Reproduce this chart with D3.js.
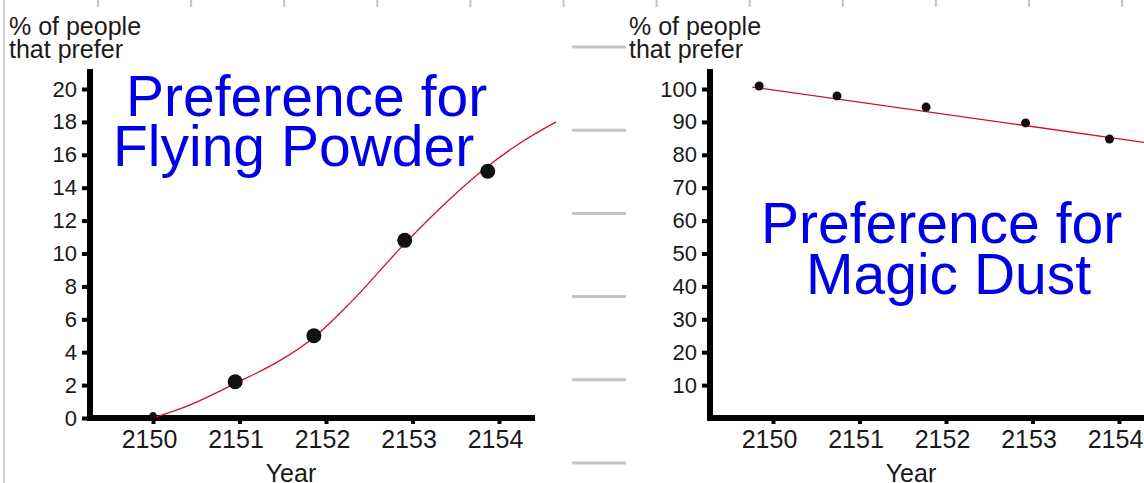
<!DOCTYPE html>
<html>
<head>
<meta charset="utf-8">
<script src="https://cdn.jsdelivr.net/npm/d3@7"></script>
<style>
  body { margin: 0; background: #fff; }
  svg { display: block; }
  text { font-family: "Liberation Sans", Arial, Helvetica, sans-serif; fill: #1a1a1a; }
</style>
</head>
<body>
<svg id="chart" width="1144" height="483"></svg>
<script>
// x axis ticks, shared by both panels
var years = [2150, 2151, 2152, 2153, 2154];

// Flying Powder: measured points and the fitted red curve
var powderYears = [2150, 2150.95, 2151.86, 2152.91, 2153.87];
var powderValues = [0.15, 2.2, 5.0, 10.8, 15.0];
var powderCurveYears = [2150, 2150.43, 2150.95, 2151.47, 2151.86, 2152.28, 2152.91, 2153.43, 2153.87, 2154.24, 2154.66];
var powderCurveValues = [0, 0.8, 2.1, 3.5, 4.9, 7.0, 10.6, 13.3, 15.3, 16.7, 18.0];
var powderTicks = [0, 2, 4, 6, 8, 10, 12, 14, 16, 18, 20];

// Magic Dust: measured points and the fitted red line
var dustYears = [2149.84, 2150.74, 2151.77, 2152.92, 2153.89];
var dustValues = [100.9, 97.9, 94.5, 89.7, 84.8];
var dustLineYears = [2149.76, 2154.5];
var dustLineValues = [100.6, 83.0];
var dustTicks = [10, 20, 30, 40, 50, 60, 70, 80, 90, 100];

var svg = d3.select("#chart");

// faint spreadsheet grid showing behind the two pictures
var bg = svg.append("g").attr("stroke", "#c4c4c4").attr("fill", "none");
bg.append("line").attr("x1", 4).attr("x2", 4).attr("y1", 0).attr("y2", 483).attr("stroke-width", 1.5);
bg.selectAll(".vcol").data(d3.range(12)).enter().append("line")
  .attr("x1", function(d) { return 98 + d * 93.1; })
  .attr("x2", function(d) { return 98 + d * 93.1; })
  .attr("y1", 0).attr("y2", 7).attr("stroke-width", 2);
bg.selectAll(".hrow").data(d3.range(6)).enter().append("line")
  .attr("x1", 572).attr("x2", 626)
  .attr("y1", function(d) { return 47 + d * 83.2; })
  .attr("y2", function(d) { return 47 + d * 83.2; })
  .attr("stroke-width", 3);

function drawPanel(p) {
  var g = svg.append("g").attr("transform", "translate(" + p.dx + ",0)");
  var x = d3.scaleLinear().domain([2150, 2154]).range([153, 499]);
  var y = d3.scaleLinear().domain([0, p.max]).range([418, 89]);

  // axis label
  g.append("text").attr("x", 9).attr("y", 35).style("font-size", "25px").text("% of people");
  g.append("text").attr("x", 9).attr("y", 58).style("font-size", "25px").text("that prefer");

  // y ticks and labels
  var yAxis = g.append("g").attr("transform", "translate(87,0)")
    .call(d3.axisLeft(y).tickValues(p.ticks).tickSize(5).tickSizeOuter(0).tickPadding(5));
  yAxis.select(".domain").remove();
  yAxis.selectAll(".tick line").attr("stroke", "#000").attr("stroke-width", 4);
  yAxis.selectAll(".tick text").style("font-size", "22px").attr("fill", "#1a1a1a");

  // x ticks and labels
  var xAxis = g.append("g").attr("transform", "translate(0,418)")
    .call(d3.axisBottom(x).tickValues(years).tickFormat(d3.format("d")).tickSize(6).tickSizeOuter(0));
  xAxis.select(".domain").remove();
  xAxis.selectAll(".tick line").attr("stroke", "#000").attr("stroke-width", 4);
  xAxis.selectAll(".tick text").style("font-size", "25px").attr("fill", "#1a1a1a")
    .attr("y", 30).attr("dy", 0).attr("dx", -4);

  // heavy axis lines
  g.append("line").attr("x1", 90).attr("x2", 90).attr("y1", 69).attr("y2", 421)
    .attr("stroke", "#000").attr("stroke-width", 6);
  g.append("line").attr("x1", 87).attr("x2", p.axisEnd).attr("y1", 418).attr("y2", 418)
    .attr("stroke", "#000").attr("stroke-width", 6);

  g.append("text").attr("x", 291).attr("y", 482).attr("text-anchor", "middle")
    .style("font-size", "25px").text("Year");

  // title
  p.title.forEach(function(t) {
    g.append("text").attr("x", t.x).attr("y", t.y)
      .style("font-size", "57px").style("fill", "#0000e6").text(t.text);
  });

  // fitted red line
  var fit = d3.line()
    .x(function(d) { return x(d[0]); })
    .y(function(d) { return y(d[1]); })
    .curve(d3.curveMonotoneX);
  g.append("path").datum(d3.zip(p.lineYears, p.lineValues))
    .attr("d", fit).attr("fill", "none").attr("stroke", "#d0102c").attr("stroke-width", 1.3);

  // measured points
  g.selectAll(".pt").data(d3.zip(p.years, p.values)).enter().append("circle")
    .attr("cx", function(d) { return x(d[0]); })
    .attr("cy", function(d) { return y(d[1]); })
    .attr("r", function(d, i) { return p.radius(i); })
    .attr("fill", "#111");
}

drawPanel({
  dx: 0, max: 20, ticks: powderTicks, axisEnd: 535,
  years: powderYears, values: powderValues,
  lineYears: powderCurveYears, lineValues: powderCurveValues,
  radius: function(i) { return i === 0 ? 3.5 : 7.5; },
  title: [{text: "Preference for", x: 126, y: 116}, {text: "Flying Powder", x: 113, y: 166}]
});

drawPanel({
  dx: 620, max: 100, ticks: dustTicks, axisEnd: 560,
  years: dustYears, values: dustValues,
  lineYears: dustLineYears, lineValues: dustLineValues,
  radius: function(i) { return 4.5; },
  title: [{text: "Preference for", x: 141, y: 243}, {text: "Magic Dust", x: 186, y: 294}]
});
</script>
</body>
</html>
